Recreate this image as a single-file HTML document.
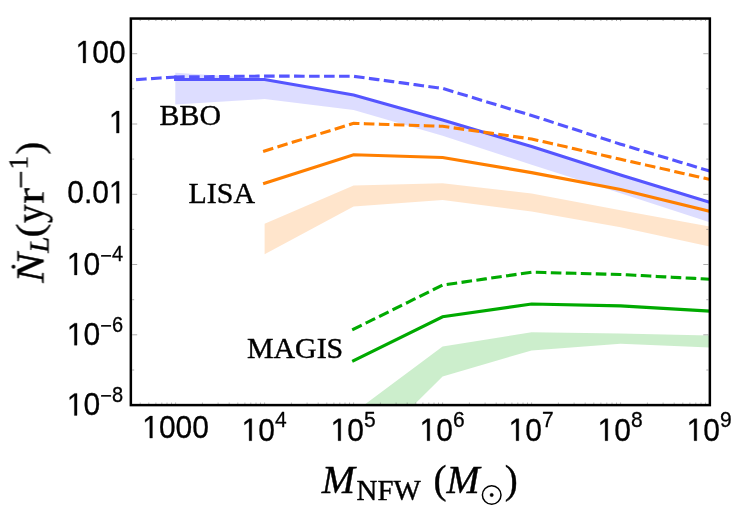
<!DOCTYPE html>
<html><head><meta charset="utf-8"><style>
html,body{margin:0;padding:0;background:#fff;}
svg{display:block}
</style></head><body>
<svg width="747" height="517" viewBox="0 0 747 517">
<rect width="747" height="517" fill="#fff"/>
<defs><clipPath id="c"><rect x="131" y="18.5" width="578.6" height="386"/></clipPath></defs>
<g clip-path="url(#c)">
<polygon points="175.3,72.7 264.6,78.5 353.6,94.9 442.6,120.1 531.6,146.6 620.6,175.0 709.6,202.2 709.6,222.2 620.6,193.2 531.6,164.8 442.6,135.8 353.6,110.0 264.6,99.1 175.3,104.4" fill="#5555ff" fill-opacity="0.2"/>
<polygon points="264.6,223.7 353.6,185.4 442.6,183.2 531.6,193.6 620.6,210.3 709.6,226.4 709.6,246.5 620.6,227.2 531.6,211.4 442.6,200.0 353.6,206.6 264.6,254.3" fill="#ff7f00" fill-opacity="0.2"/>
<polygon points="353.6,412.8 442.6,346.4 531.6,332.3 620.6,333.6 709.6,335.6 709.6,347.4 620.6,343.8 531.6,350.4 442.6,376.6 353.6,464.6" fill="#00aa00" fill-opacity="0.2"/>
<polyline points="175.6,79.5 264.6,79.5 353.6,94.9 442.6,120.1 531.6,146.6 620.6,175.0 709.6,202.2" fill="none" stroke="#5555ff" stroke-width="3.1" stroke-linejoin="miter" stroke-linecap="square"/>
<polyline points="137.6,79.5 175.6,77.0" fill="none" stroke="#5555ff" stroke-width="3.1" stroke-dasharray="7.5 7.5" stroke-linecap="square" stroke-linejoin="miter"/>
<polyline points="175.6,77.0 264.6,76.1 353.6,76.3 442.6,88.4 531.6,115.5 620.6,144.2 709.6,171.0" fill="none" stroke="#5555ff" stroke-width="3.1" stroke-dasharray="7.5 7.5" stroke-linecap="square" stroke-linejoin="miter"/>
<polyline points="264.6,183.3 353.6,154.7 442.6,157.5 531.6,172.6 620.6,189.4 709.6,211.2" fill="none" stroke="#ff7f00" stroke-width="3.1" stroke-linejoin="miter" stroke-linecap="square"/>
<polyline points="264.6,151.0 353.6,123.3 442.6,126.3 531.6,139.0 620.6,159.3 709.6,179.4" fill="none" stroke="#ff7f00" stroke-width="3.1" stroke-dasharray="7.5 7.5" stroke-linecap="square" stroke-linejoin="miter"/>
<polyline points="353.6,360.6 442.6,316.8 531.6,304.0 620.6,305.9 709.6,311.1" fill="none" stroke="#00aa00" stroke-width="3.1" stroke-linejoin="miter" stroke-linecap="square"/>
<polyline points="353.6,329.2 442.6,285.1 531.6,272.2 620.6,274.5 709.6,279.2" fill="none" stroke="#00aa00" stroke-width="3.1" stroke-dasharray="7.5 7.5" stroke-linecap="square" stroke-linejoin="miter"/>
</g>
<g stroke="#777" stroke-width="0.6">
<line x1="175.6" y1="403.8" x2="175.6" y2="402.5" />
<line x1="175.6" y1="19.8" x2="175.6" y2="21.1" />
<line x1="264.6" y1="403.8" x2="264.6" y2="402.5" />
<line x1="264.6" y1="19.8" x2="264.6" y2="21.1" />
<line x1="353.6" y1="403.8" x2="353.6" y2="402.5" />
<line x1="353.6" y1="19.8" x2="353.6" y2="21.1" />
<line x1="442.6" y1="403.8" x2="442.6" y2="402.5" />
<line x1="442.6" y1="19.8" x2="442.6" y2="21.1" />
<line x1="531.6" y1="403.8" x2="531.6" y2="402.5" />
<line x1="531.6" y1="19.8" x2="531.6" y2="21.1" />
<line x1="620.6" y1="403.8" x2="620.6" y2="402.5" />
<line x1="620.6" y1="19.8" x2="620.6" y2="21.1" />
<line x1="709.6" y1="403.8" x2="709.6" y2="402.5" />
<line x1="709.6" y1="19.8" x2="709.6" y2="21.1" />
<line x1="140.2" y1="403.8" x2="140.2" y2="402.6" />
<line x1="140.2" y1="19.8" x2="140.2" y2="21.0" />
<line x1="148.8" y1="403.8" x2="148.8" y2="402.6" />
<line x1="148.8" y1="19.8" x2="148.8" y2="21.0" />
<line x1="155.9" y1="403.8" x2="155.9" y2="402.6" />
<line x1="155.9" y1="19.8" x2="155.9" y2="21.0" />
<line x1="161.8" y1="403.8" x2="161.8" y2="402.6" />
<line x1="161.8" y1="19.8" x2="161.8" y2="21.0" />
<line x1="167.0" y1="403.8" x2="167.0" y2="402.6" />
<line x1="167.0" y1="19.8" x2="167.0" y2="21.0" />
<line x1="171.5" y1="403.8" x2="171.5" y2="402.6" />
<line x1="171.5" y1="19.8" x2="171.5" y2="21.0" />
<line x1="202.4" y1="403.8" x2="202.4" y2="402.6" />
<line x1="202.4" y1="19.8" x2="202.4" y2="21.0" />
<line x1="218.1" y1="403.8" x2="218.1" y2="402.6" />
<line x1="218.1" y1="19.8" x2="218.1" y2="21.0" />
<line x1="229.2" y1="403.8" x2="229.2" y2="402.6" />
<line x1="229.2" y1="19.8" x2="229.2" y2="21.0" />
<line x1="237.8" y1="403.8" x2="237.8" y2="402.6" />
<line x1="237.8" y1="19.8" x2="237.8" y2="21.0" />
<line x1="244.9" y1="403.8" x2="244.9" y2="402.6" />
<line x1="244.9" y1="19.8" x2="244.9" y2="21.0" />
<line x1="250.8" y1="403.8" x2="250.8" y2="402.6" />
<line x1="250.8" y1="19.8" x2="250.8" y2="21.0" />
<line x1="256.0" y1="403.8" x2="256.0" y2="402.6" />
<line x1="256.0" y1="19.8" x2="256.0" y2="21.0" />
<line x1="260.5" y1="403.8" x2="260.5" y2="402.6" />
<line x1="260.5" y1="19.8" x2="260.5" y2="21.0" />
<line x1="291.4" y1="403.8" x2="291.4" y2="402.6" />
<line x1="291.4" y1="19.8" x2="291.4" y2="21.0" />
<line x1="307.1" y1="403.8" x2="307.1" y2="402.6" />
<line x1="307.1" y1="19.8" x2="307.1" y2="21.0" />
<line x1="318.2" y1="403.8" x2="318.2" y2="402.6" />
<line x1="318.2" y1="19.8" x2="318.2" y2="21.0" />
<line x1="326.8" y1="403.8" x2="326.8" y2="402.6" />
<line x1="326.8" y1="19.8" x2="326.8" y2="21.0" />
<line x1="333.9" y1="403.8" x2="333.9" y2="402.6" />
<line x1="333.9" y1="19.8" x2="333.9" y2="21.0" />
<line x1="339.8" y1="403.8" x2="339.8" y2="402.6" />
<line x1="339.8" y1="19.8" x2="339.8" y2="21.0" />
<line x1="345.0" y1="403.8" x2="345.0" y2="402.6" />
<line x1="345.0" y1="19.8" x2="345.0" y2="21.0" />
<line x1="349.5" y1="403.8" x2="349.5" y2="402.6" />
<line x1="349.5" y1="19.8" x2="349.5" y2="21.0" />
<line x1="380.4" y1="403.8" x2="380.4" y2="402.6" />
<line x1="380.4" y1="19.8" x2="380.4" y2="21.0" />
<line x1="396.1" y1="403.8" x2="396.1" y2="402.6" />
<line x1="396.1" y1="19.8" x2="396.1" y2="21.0" />
<line x1="407.2" y1="403.8" x2="407.2" y2="402.6" />
<line x1="407.2" y1="19.8" x2="407.2" y2="21.0" />
<line x1="415.8" y1="403.8" x2="415.8" y2="402.6" />
<line x1="415.8" y1="19.8" x2="415.8" y2="21.0" />
<line x1="422.9" y1="403.8" x2="422.9" y2="402.6" />
<line x1="422.9" y1="19.8" x2="422.9" y2="21.0" />
<line x1="428.8" y1="403.8" x2="428.8" y2="402.6" />
<line x1="428.8" y1="19.8" x2="428.8" y2="21.0" />
<line x1="434.0" y1="403.8" x2="434.0" y2="402.6" />
<line x1="434.0" y1="19.8" x2="434.0" y2="21.0" />
<line x1="438.5" y1="403.8" x2="438.5" y2="402.6" />
<line x1="438.5" y1="19.8" x2="438.5" y2="21.0" />
<line x1="469.4" y1="403.8" x2="469.4" y2="402.6" />
<line x1="469.4" y1="19.8" x2="469.4" y2="21.0" />
<line x1="485.1" y1="403.8" x2="485.1" y2="402.6" />
<line x1="485.1" y1="19.8" x2="485.1" y2="21.0" />
<line x1="496.2" y1="403.8" x2="496.2" y2="402.6" />
<line x1="496.2" y1="19.8" x2="496.2" y2="21.0" />
<line x1="504.8" y1="403.8" x2="504.8" y2="402.6" />
<line x1="504.8" y1="19.8" x2="504.8" y2="21.0" />
<line x1="511.9" y1="403.8" x2="511.9" y2="402.6" />
<line x1="511.9" y1="19.8" x2="511.9" y2="21.0" />
<line x1="517.8" y1="403.8" x2="517.8" y2="402.6" />
<line x1="517.8" y1="19.8" x2="517.8" y2="21.0" />
<line x1="523.0" y1="403.8" x2="523.0" y2="402.6" />
<line x1="523.0" y1="19.8" x2="523.0" y2="21.0" />
<line x1="527.5" y1="403.8" x2="527.5" y2="402.6" />
<line x1="527.5" y1="19.8" x2="527.5" y2="21.0" />
<line x1="558.4" y1="403.8" x2="558.4" y2="402.6" />
<line x1="558.4" y1="19.8" x2="558.4" y2="21.0" />
<line x1="574.1" y1="403.8" x2="574.1" y2="402.6" />
<line x1="574.1" y1="19.8" x2="574.1" y2="21.0" />
<line x1="585.2" y1="403.8" x2="585.2" y2="402.6" />
<line x1="585.2" y1="19.8" x2="585.2" y2="21.0" />
<line x1="593.8" y1="403.8" x2="593.8" y2="402.6" />
<line x1="593.8" y1="19.8" x2="593.8" y2="21.0" />
<line x1="600.9" y1="403.8" x2="600.9" y2="402.6" />
<line x1="600.9" y1="19.8" x2="600.9" y2="21.0" />
<line x1="606.8" y1="403.8" x2="606.8" y2="402.6" />
<line x1="606.8" y1="19.8" x2="606.8" y2="21.0" />
<line x1="612.0" y1="403.8" x2="612.0" y2="402.6" />
<line x1="612.0" y1="19.8" x2="612.0" y2="21.0" />
<line x1="616.5" y1="403.8" x2="616.5" y2="402.6" />
<line x1="616.5" y1="19.8" x2="616.5" y2="21.0" />
<line x1="647.4" y1="403.8" x2="647.4" y2="402.6" />
<line x1="647.4" y1="19.8" x2="647.4" y2="21.0" />
<line x1="663.1" y1="403.8" x2="663.1" y2="402.6" />
<line x1="663.1" y1="19.8" x2="663.1" y2="21.0" />
<line x1="674.2" y1="403.8" x2="674.2" y2="402.6" />
<line x1="674.2" y1="19.8" x2="674.2" y2="21.0" />
<line x1="682.8" y1="403.8" x2="682.8" y2="402.6" />
<line x1="682.8" y1="19.8" x2="682.8" y2="21.0" />
<line x1="689.9" y1="403.8" x2="689.9" y2="402.6" />
<line x1="689.9" y1="19.8" x2="689.9" y2="21.0" />
<line x1="695.8" y1="403.8" x2="695.8" y2="402.6" />
<line x1="695.8" y1="19.8" x2="695.8" y2="21.0" />
<line x1="701.0" y1="403.8" x2="701.0" y2="402.6" />
<line x1="701.0" y1="19.8" x2="701.0" y2="21.0" />
<line x1="705.5" y1="403.8" x2="705.5" y2="402.6" />
<line x1="705.5" y1="19.8" x2="705.5" y2="21.0" />
<line x1="132.2" y1="405.1" x2="137.2" y2="405.1" />
<line x1="708.3" y1="405.1" x2="703.3" y2="405.1" />
<line x1="132.2" y1="370.0" x2="134.2" y2="370.0" />
<line x1="708.3" y1="370.0" x2="706.3" y2="370.0" />
<line x1="132.2" y1="334.8" x2="137.2" y2="334.8" />
<line x1="708.3" y1="334.8" x2="703.3" y2="334.8" />
<line x1="132.2" y1="299.7" x2="134.2" y2="299.7" />
<line x1="708.3" y1="299.7" x2="706.3" y2="299.7" />
<line x1="132.2" y1="264.5" x2="137.2" y2="264.5" />
<line x1="708.3" y1="264.5" x2="703.3" y2="264.5" />
<line x1="132.2" y1="229.4" x2="134.2" y2="229.4" />
<line x1="708.3" y1="229.4" x2="706.3" y2="229.4" />
<line x1="132.2" y1="194.3" x2="137.2" y2="194.3" />
<line x1="708.3" y1="194.3" x2="703.3" y2="194.3" />
<line x1="132.2" y1="159.1" x2="134.2" y2="159.1" />
<line x1="708.3" y1="159.1" x2="706.3" y2="159.1" />
<line x1="132.2" y1="124.0" x2="137.2" y2="124.0" />
<line x1="708.3" y1="124.0" x2="703.3" y2="124.0" />
<line x1="132.2" y1="88.8" x2="134.2" y2="88.8" />
<line x1="708.3" y1="88.8" x2="706.3" y2="88.8" />
<line x1="132.2" y1="53.7" x2="137.2" y2="53.7" />
<line x1="708.3" y1="53.7" x2="703.3" y2="53.7" />
</g>
<rect x="130.85" y="18.55" width="579.0" height="386.55" fill="none" stroke="#000" stroke-width="2.5"/>
<g opacity="0.999">
<g font-family="'Liberation Sans', sans-serif" font-size="30" fill="#000" stroke="#000" stroke-width="0.3" stroke-linejoin="round">
<path transform="translate(75.55,62.90) scale(0.01465,-0.01560)" d="M515 0V1237L197 1010V1180L530 1409H696V0Z" stroke-width="20.5"/>
<text transform="translate(92.23,62.90) scale(1,1.065)" font-size="30">0</text>
<text transform="translate(108.92,62.90) scale(1,1.065)" font-size="30">0</text>
<path transform="translate(108.92,133.10) scale(0.01465,-0.01560)" d="M515 0V1237L197 1010V1180L530 1409H696V0Z" stroke-width="20.5"/>
<text transform="translate(67.21,203.30) scale(1,1.065)" font-size="30">0</text>
<text transform="translate(83.90,203.30) scale(1,1.065)" font-size="30">.</text>
<text transform="translate(92.23,203.30) scale(1,1.065)" font-size="30">0</text>
<path transform="translate(108.92,203.30) scale(0.01465,-0.01560)" d="M515 0V1237L197 1010V1180L530 1409H696V0Z" stroke-width="20.5"/>
<path transform="translate(66.83,275.00) scale(0.01465,-0.01560)" d="M515 0V1237L197 1010V1180L530 1409H696V0Z" stroke-width="20.5"/>
<text transform="translate(83.51,275.00) scale(1,1.065)" font-size="30">0</text>
<text transform="translate(100.20,263.07) scale(1,1.065)" font-size="20">−</text>
<text transform="translate(111.88,261.37) scale(1,1.065)" font-size="20">4</text>
<path transform="translate(66.83,345.20) scale(0.01465,-0.01560)" d="M515 0V1237L197 1010V1180L530 1409H696V0Z" stroke-width="20.5"/>
<text transform="translate(83.51,345.20) scale(1,1.065)" font-size="30">0</text>
<text transform="translate(100.20,333.27) scale(1,1.065)" font-size="20">−</text>
<text transform="translate(111.88,331.57) scale(1,1.065)" font-size="20">6</text>
<path transform="translate(66.83,415.40) scale(0.01465,-0.01560)" d="M515 0V1237L197 1010V1180L530 1409H696V0Z" stroke-width="20.5"/>
<text transform="translate(83.51,415.40) scale(1,1.065)" font-size="30">0</text>
<text transform="translate(100.20,403.47) scale(1,1.065)" font-size="20">−</text>
<text transform="translate(111.88,401.77) scale(1,1.065)" font-size="20">8</text>
<path transform="translate(142.23,438.10) scale(0.01465,-0.01560)" d="M515 0V1237L197 1010V1180L530 1409H696V0Z" stroke-width="20.5"/>
<text transform="translate(158.92,438.10) scale(1,1.065)" font-size="30">0</text>
<text transform="translate(175.60,438.10) scale(1,1.065)" font-size="30">0</text>
<text transform="translate(192.28,438.10) scale(1,1.065)" font-size="30">0</text>
<path transform="translate(241.58,440.70) scale(0.01465,-0.01560)" d="M515 0V1237L197 1010V1180L530 1409H696V0Z" stroke-width="20.5"/>
<text transform="translate(258.26,440.70) scale(1,1.065)" font-size="30">0</text>
<text transform="translate(274.94,427.07) scale(1,1.065)" font-size="21">4</text>
<path transform="translate(330.58,440.70) scale(0.01465,-0.01560)" d="M515 0V1237L197 1010V1180L530 1409H696V0Z" stroke-width="20.5"/>
<text transform="translate(347.26,440.70) scale(1,1.065)" font-size="30">0</text>
<text transform="translate(363.94,427.07) scale(1,1.065)" font-size="21">5</text>
<path transform="translate(419.58,440.70) scale(0.01465,-0.01560)" d="M515 0V1237L197 1010V1180L530 1409H696V0Z" stroke-width="20.5"/>
<text transform="translate(436.26,440.70) scale(1,1.065)" font-size="30">0</text>
<text transform="translate(452.94,427.07) scale(1,1.065)" font-size="21">6</text>
<path transform="translate(508.58,440.70) scale(0.01465,-0.01560)" d="M515 0V1237L197 1010V1180L530 1409H696V0Z" stroke-width="20.5"/>
<text transform="translate(525.26,440.70) scale(1,1.065)" font-size="30">0</text>
<text transform="translate(541.94,427.07) scale(1,1.065)" font-size="21">7</text>
<path transform="translate(597.58,440.70) scale(0.01465,-0.01560)" d="M515 0V1237L197 1010V1180L530 1409H696V0Z" stroke-width="20.5"/>
<text transform="translate(614.26,440.70) scale(1,1.065)" font-size="30">0</text>
<text transform="translate(630.94,427.07) scale(1,1.065)" font-size="21">8</text>
<path transform="translate(686.58,440.70) scale(0.01465,-0.01560)" d="M515 0V1237L197 1010V1180L530 1409H696V0Z" stroke-width="20.5"/>
<text transform="translate(703.26,440.70) scale(1,1.065)" font-size="30">0</text>
<text transform="translate(719.94,427.07) scale(1,1.065)" font-size="21">9</text>
</g>
<g font-family="'Liberation Serif', serif" font-size="29.9" fill="#000" stroke="#000" stroke-width="0.4">
<text transform="translate(159.6,124.9) scale(1,1.01)">BBO</text>
<text transform="translate(188.6,203.4) scale(1,1.01)">LISA</text>
<text transform="translate(246.9,357.8) scale(1,1.0)">MAGIS</text>
</g>
<g font-family="'Liberation Serif', serif" font-size="37.5" fill="#000" stroke="#000" stroke-width="0.4">
<text x="321.8" y="493.4" font-size="39.8" font-style="italic">M</text>
<text x="356.6" y="500.3" font-size="28.9">NFW</text>
<text x="433.6" y="493.4" font-size="39">(</text>
<text x="446.4" y="493.4" font-size="39.8" font-style="italic">M</text>
<circle cx="491.7" cy="495.0" r="9.3" fill="none" stroke="#000" stroke-width="1.5"/>
<circle cx="491.7" cy="495.0" r="1.7" fill="#000"/>
<text x="504.8" y="493.4" font-size="39">)</text>
<g transform="translate(43.5,283) rotate(-90)">
<text transform="translate(0.3,0) scale(1.12,1)" font-size="39.8" font-style="italic">N</text>
<text transform="translate(30.3,5) scale(1.08,1)" font-size="27" font-style="italic">L</text>
<text transform="translate(45.6,-1.4) scale(1.12,1)" font-size="37.5">(</text>
<text transform="translate(60.0,0) scale(0.93,1)" font-size="39.8">y</text>
<text transform="translate(79.3,-0.5) scale(1.22,1)" font-size="39">r</text>
<text transform="translate(113.4,-15.7) scale(1.0,1)" font-size="27">1</text>
<text transform="translate(128.6,-0.9) scale(1.0,1)" font-size="38">)</text>
<circle cx="16.3" cy="-30.0" r="1.8" fill="#000"/>
<rect x="95.8" y="-23.2" width="15.2" height="1.4" fill="#000"/>
</g>
</g>
</g>
</svg>
</body></html>
